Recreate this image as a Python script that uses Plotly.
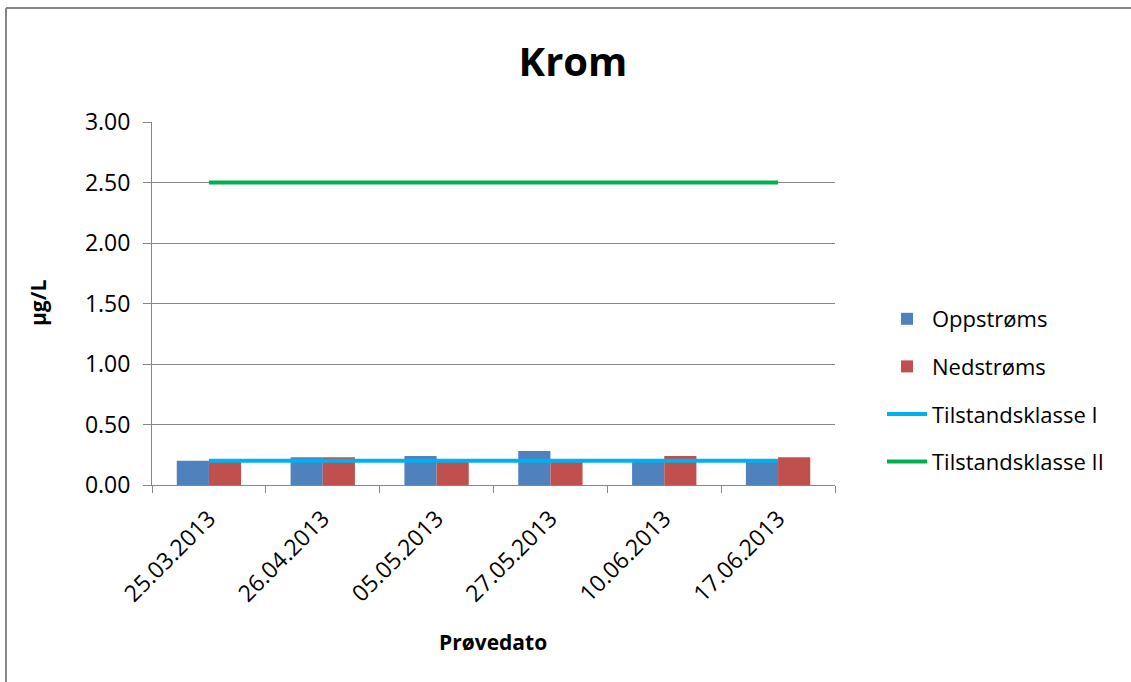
import plotly.graph_objects as go

# Sample dates and measured chromium concentrations (µg/L)
dates = ["25.03.2013", "26.04.2013", "05.05.2013", "27.05.2013", "10.06.2013", "17.06.2013"]
oppstroms = [0.20, 0.23, 0.24, 0.28, 0.20, 0.21]
nedstroms = [0.19, 0.23, 0.19, 0.19, 0.24, 0.23]
klasse_1 = [0.20] * len(dates)
klasse_2 = [2.50] * len(dates)

W, H = 1131, 682
FONT = "'Open Sans', sans-serif"
GRID = "#868686"

# plot area in pixels
PL, PR, PT, PB = 152, 835, 122, 485
PW, PH = PR - PL, PB - PT


def px(x):
    return (x - PL) / PW


def py(y):
    return (PB - y) / PH


fig = go.Figure()
fig.add_trace(go.Bar(x=dates, y=oppstroms, name="Oppstrøms",
                     marker=dict(color="#4F81BD", line=dict(width=0)),
                     legendgroup="a"))
fig.add_trace(go.Bar(x=dates, y=nedstroms, name="Nedstrøms",
                     marker=dict(color="#C0504D", line=dict(width=0)),
                     legendgroup="b"))
fig.add_trace(go.Scatter(x=dates, y=klasse_1, name="Tilstandsklasse I", mode="lines",
                         line=dict(color="#00B0F0", width=4), legendgroup="c"))
fig.add_trace(go.Scatter(x=dates, y=klasse_2, name="Tilstandsklasse II", mode="lines",
                         line=dict(color="#00B050", width=4), legendgroup="d"))

# chart frame: top and left edges (the rest lies outside the page)
frame = [
    dict(type="line", xref="paper", yref="paper",
         x0=px(6), x1=px(W), y0=py(8), y1=py(8),
         line=dict(color=GRID, width=2), layer="below"),
    dict(type="line", xref="paper", yref="paper",
         x0=px(6), x1=px(6), y0=py(8), y1=py(H),
         line=dict(color=GRID, width=2), layer="below"),
]

fig.update_layout(
    width=W, height=H,
    margin=dict(l=PL, r=W - PR, t=PT, b=H - PB, autoexpand=False),
    paper_bgcolor="white", plot_bgcolor="white",
    font=dict(family=FONT, size=22, color="black"),
    barmode="group", bargap=0.435, bargroupgap=0,
    hovermode=False,
    title=dict(text="<b>Krom</b>", x=573 / W, xanchor="center",
               y=1 - 62 / H, yanchor="middle",
               font=dict(size=40, family=FONT, color="black")),
    xaxis=dict(type="category", tickson="boundaries", automargin=False,
               ticks="outside", ticklen=7, tickcolor=GRID, tickangle=-45,
               ticklabelstandoff=10,
               showline=True, linecolor=GRID, linewidth=1, showgrid=False,
               tickfont=dict(size=23)),
    yaxis=dict(range=[0, 3], dtick=0.5, tickformat=".2f", automargin=False,
               showgrid=True, gridcolor=GRID, gridwidth=1,
               showline=True, linecolor=GRID, linewidth=1,
               ticks="outside", ticklen=8, tickcolor=GRID, ticklabelstandoff=8,
               zeroline=False, tickfont=dict(size=23)),
    legend=dict(x=px(882), xanchor="left", y=py(298), yanchor="top",
                font=dict(size=22), traceorder="grouped", tracegroupgap=16,
                itemwidth=40, bgcolor="rgba(0,0,0,0)"),
    annotations=[
        dict(text="<b>Prøvedato</b>", x=px(493), y=py(642), xref="paper", yref="paper",
             showarrow=False, font=dict(size=21), xanchor="center", yanchor="middle"),
        dict(text="<b>µg/L</b>", x=px(38), y=py(303), xref="paper", yref="paper",
             showarrow=False, font=dict(size=21), textangle=-90,
             xanchor="center", yanchor="middle"),
    ],
    shapes=frame,
)

fig.write_html("out.html", config={"displayModeBar": False})
